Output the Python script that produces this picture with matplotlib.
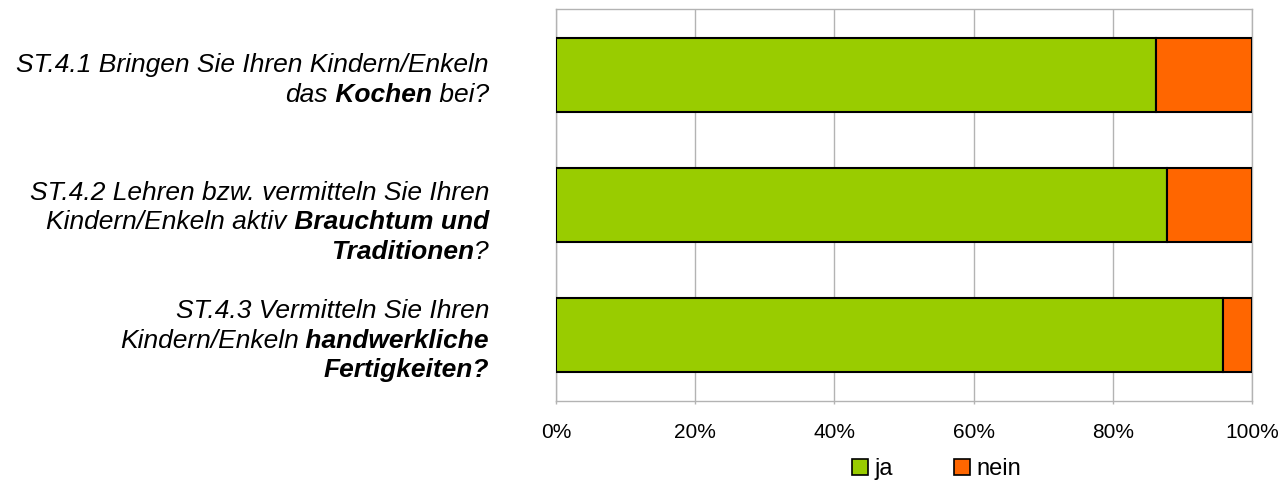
import matplotlib
matplotlib.use('Agg')
from matplotlib import pyplot as plt
from matplotlib import transforms
from matplotlib.patches import Patch

plt.rcParams['font.family'] = ['Liberation Sans', 'DejaVu Sans']

# answers per question, percent of respondents
questions = [
    ['ST.4.1 Bringen Sie Ihren Kindern/Enkeln',
     'das **Kochen** bei?'],
    ['ST.4.2 Lehren bzw. vermitteln Sie Ihren',
     'Kindern/Enkeln aktiv **Brauchtum und**',
     '**Traditionen**?'],
    ['ST.4.3 Vermitteln Sie Ihren',
     'Kindern/Enkeln **handwerkliche**',
     '**Fertigkeiten?**'],
]
ja = [86.2, 87.8, 95.8]
nein = [13.8, 12.2, 4.2]
series_names = ['ja', 'nein']
xticks = [0, 20, 40, 60, 80, 100]
xtick_labels = ['0%', '20%', '40%', '60%', '80%', '100%']

green = '#99cc00'
orange = '#ff6600'
grid_grey = '#b3b3b3'

W, H = 1283, 480
fig = plt.figure(figsize=(W / 100, H / 100), dpi=100)
ax = fig.add_axes([556 / W, 1 - 401 / H, 696 / W, 392 / H])

pos = list(range(len(ja)))
ax.barh(pos, ja, height=0.57, color=green, edgecolor='black', linewidth=1.5, zorder=3)
ax.barh(pos, nein, left=ja, height=0.57, color=orange, edgecolor='black', linewidth=1.5, zorder=3)

ax.set_xlim(0, 100)
ax.set_ylim(2.508, -0.508)
ax.set_xticks(xticks)
ax.set_xticklabels(xtick_labels)
ax.set_yticks([])
ax.grid(axis='x', color=grid_grey, linewidth=1)
ax.set_axisbelow(True)
ax.tick_params(axis='x', direction='out', length=2.2, width=1, color=grid_grey,
               labelsize=15, pad=13.5)
for sp in ax.spines.values():
    sp.set_color(grid_grey)
    sp.set_linewidth(1)

# question labels: one text per line, bold parts marked with **
label_x = 489 / W
first_line = [-3, -5.5, -17]   # pixels below the bar centre
line_gap = 29.7
base = transforms.blended_transform_factory(fig.transFigure, ax.transData)


def split_segments(line):
    parts = line.split('**')
    return [(p, i % 2 == 1) for i, p in enumerate(parts) if p]


for k, lines in enumerate(questions):
    for i, line in enumerate(lines):
        dy = -(first_line[k] + i * line_gap)
        tr = transforms.offset_copy(base, fig=fig, x=0, y=dy, units='dots')
        segs = split_segments(line)
        # leading spaces stay with the following segment so widths add up
        words = []
        carry = ''
        for text, bold in segs:
            words.append([carry + text.rstrip(' '), bold])
            carry = ' ' * (len(text) - len(text.rstrip(' ')))
        prev = None
        for text, bold in reversed(words):
            weight = 'bold' if bold else 'normal'
            if prev is None:
                prev = ax.text(label_x, k, text, transform=tr, ha='right', va='baseline',
                               fontsize=19, style='italic', weight=weight)
            else:
                prev = ax.annotate(text, xy=(0, 0), xycoords=prev, ha='right', va='bottom',
                                   fontsize=19, style='italic', weight=weight,
                                   annotation_clip=False)

handles = [Patch(facecolor=green, edgecolor='black', linewidth=1.2),
           Patch(facecolor=orange, edgecolor='black', linewidth=1.2)]
fig.legend(handles, series_names, loc='center', bbox_to_anchor=(936.5 / W, 1 - 469 / H),
           ncol=2, frameon=False, fontsize=17, handlelength=0.68, handleheight=0.68,
           handletextpad=0.25, columnspacing=2.6, borderpad=0)

fig.savefig('out.png', dpi=100)
